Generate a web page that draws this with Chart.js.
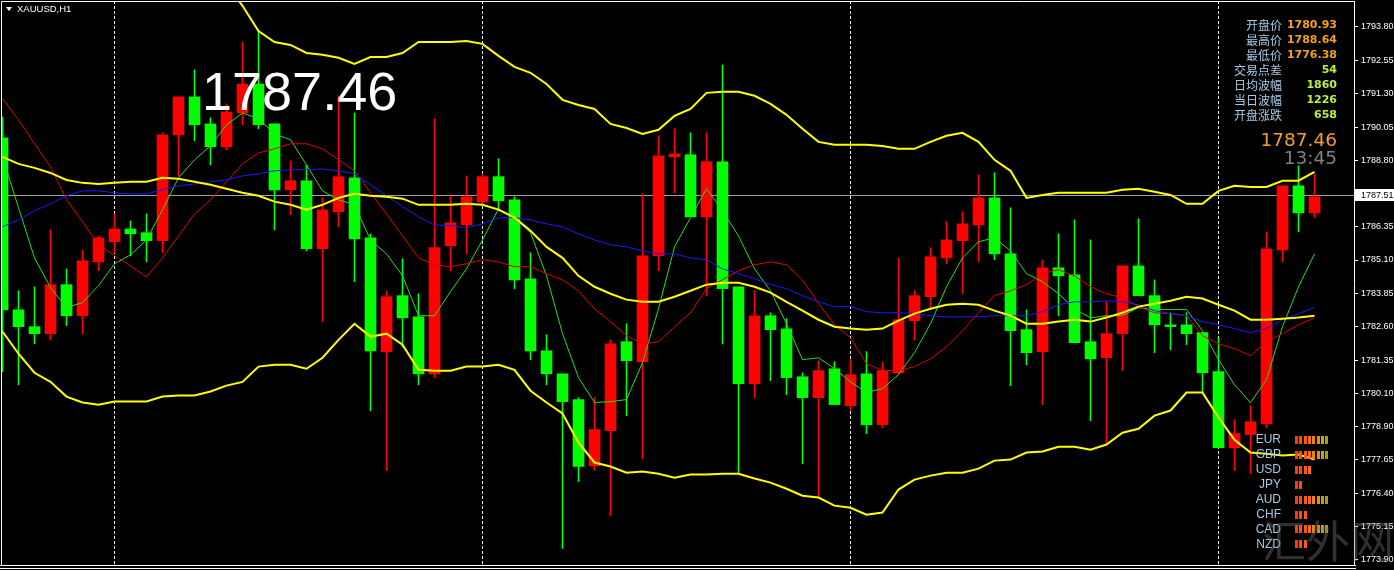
<!DOCTYPE html>
<html>
<head>
<meta charset="utf-8">
<script src="https://cdn.jsdelivr.net/npm/chart.js@4.4.1/dist/chart.umd.min.js"></script>
<style>
html,body{margin:0;padding:0;background:#000;overflow:hidden;}
#wrap{width:1394px;height:570px;position:relative;}
</style>
</head>
<body>
<div id="wrap"><canvas id="c"></canvas></div>
<script>
// XAUUSD H1 蜡烛图 (红涨绿跌) + 布林带 + 均线

const OPEN = [1789.66,1783.24,1782.61,1782.35,1784.18,1783.02,1785.03,1785.78,1786.26,1786.12,
  1785.82,1789.77,1791.19,1790.18,1789.33,1790.59,1791.67,1790.18,1787.72,1788.06,
  1785.52,1786.90,1788.17,1785.93,1781.68,1783.77,1782.98,1780.85,1785.63,1786.41,
  1787.27,1788.21,1787.35,1784.40,1781.71,1780.85,1779.89,1777.42,1778.73,1782.05,
  1781.30,1785.26,1788.95,1789.03,1786.71,1788.77,1784.10,1780.48,1783.02,1782.53,
  1780.74,1779.96,1781.04,1779.66,1780.85,1778.95,1780.89,1782.83,1783.73,1785.18,
  1785.82,1786.41,1787.42,1785.33,1782.50,1781.68,1784.81,1784.55,1782.05,1781.45,
  1782.35,1784.88,1783.77,1782.68,1782.68,1782.39,1780.93,1778.09,1778.58,1778.99,
  1785.48,1787.87,1786.86];
const HIGH = [1790.44,1783.95,1784.10,1786.23,1784.77,1785.48,1786.00,1786.82,1786.56,1786.82,
  1789.85,1791.19,1792.20,1790.41,1790.93,1793.24,1793.65,1790.18,1788.80,1788.65,
  1787.42,1791.23,1790.59,1786.08,1783.95,1785.15,1783.84,1790.37,1787.50,1788.24,
  1788.28,1788.88,1787.46,1785.37,1782.31,1780.85,1779.96,1779.96,1782.12,1782.72,
  1787.57,1789.74,1790.00,1789.85,1789.85,1792.38,1784.10,1783.95,1783.13,1782.91,
  1780.89,1781.34,1781.30,1781.38,1781.68,1781.30,1785.18,1783.95,1785.56,1786.53,
  1786.90,1788.28,1788.36,1787.05,1783.24,1785.11,1786.08,1786.60,1785.85,1783.54,
  1784.88,1786.64,1784.36,1783.13,1783.13,1782.39,1782.20,1779.14,1779.66,1786.15,
  1787.87,1788.62,1788.32];
const LOW = [1780.93,1780.44,1781.97,1782.12,1782.65,1782.35,1784.70,1785.37,1785.26,1785.03,
  1785.37,1788.24,1789.55,1788.65,1789.21,1790.15,1790.00,1786.23,1786.79,1785.44,
  1782.80,1786.34,1784.29,1779.47,1777.24,1781.86,1780.44,1780.71,1784.70,1785.33,
  1787.20,1786.94,1784.03,1781.38,1780.44,1774.33,1776.83,1777.24,1775.56,1779.29,
  1777.68,1784.70,1787.61,1786.71,1783.77,1781.97,1777.12,1779.96,1780.59,1780.07,
  1777.50,1776.27,1779.70,1779.47,1778.62,1778.84,1780.85,1782.12,1783.28,1784.96,
  1783.84,1785.03,1785.11,1780.41,1781.19,1779.70,1783.02,1782.01,1779.10,1778.24,
  1780.97,1783.77,1781.64,1781.75,1781.94,1780.15,1778.09,1777.24,1777.12,1778.84,
  1785.03,1786.15,1786.68];
const CLOSE = [1783.24,1782.61,1782.35,1784.18,1783.02,1785.07,1785.93,1786.26,1786.08,1785.82,
  1789.77,1791.19,1790.15,1789.33,1790.63,1791.67,1790.15,1787.72,1788.06,1785.52,
  1786.97,1788.21,1785.89,1781.71,1783.73,1782.94,1780.85,1785.56,1786.49,1787.46,
  1788.21,1787.31,1784.36,1781.71,1780.85,1779.81,1777.39,1778.77,1781.97,1781.34,
  1785.26,1788.99,1789.06,1786.71,1788.77,1784.03,1780.48,1783.02,1782.50,1780.71,
  1779.96,1780.97,1779.70,1780.82,1778.95,1780.97,1782.87,1783.77,1785.22,1785.85,
  1786.45,1787.42,1785.33,1782.46,1781.64,1784.81,1784.51,1782.01,1781.41,1782.35,
  1784.88,1783.77,1782.68,1782.61,1782.35,1780.89,1778.09,1778.62,1779.06,1785.52,
  1787.87,1786.86,1787.46];

// 布林带 上/中/下轨
const BB_UPPER = [1796.6,1796.6,1796.6,1796.6,1796.6,1796.6,1796.6,1796.6,1796.6,1796.6,
  1796.6,1796.5,1796.3,1795.9,1795.4,1794.59,1793.65,1793.24,1793.13,1792.83,
  1792.76,1792.65,1792.42,1792.68,1792.68,1792.83,1793.24,1793.24,1793.24,1793.28,
  1793.17,1792.72,1792.31,1792.09,1791.67,1791.08,1790.89,1790.74,1790.18,1790.03,
  1789.81,1789.96,1790.48,1790.74,1791.34,1791.38,1791.38,1791.23,1790.93,1790.52,
  1790.00,1789.51,1789.40,1789.40,1789.40,1789.36,1789.25,1789.25,1789.51,1789.74,
  1789.85,1789.51,1788.84,1788.43,1787.42,1787.53,1787.61,1787.61,1787.61,1787.61,
  1787.72,1787.76,1787.65,1787.53,1787.20,1787.20,1787.68,1787.87,1787.83,1787.83,
  1788.06,1788.06,1788.39];
const BB_MID = [1788.95,1788.69,1788.54,1788.35,1788.09,1787.98,1787.94,1787.98,1788.02,1788.02,
  1788.17,1788.13,1788.02,1787.91,1787.76,1787.61,1787.50,1787.28,1787.16,1786.98,
  1787.16,1787.42,1787.57,1787.50,1787.46,1787.39,1787.16,1787.16,1787.16,1787.20,
  1787.16,1786.98,1786.68,1786.19,1785.59,1785.18,1784.51,1784.10,1783.84,1783.62,
  1783.54,1783.54,1783.73,1783.95,1784.18,1784.25,1784.25,1784.10,1783.88,1783.54,
  1783.21,1782.87,1782.61,1782.54,1782.50,1782.54,1782.84,1783.10,1783.28,1783.43,
  1783.47,1783.43,1783.21,1783.02,1782.72,1782.72,1782.80,1782.87,1782.80,1782.95,
  1783.13,1783.36,1783.47,1783.58,1783.73,1783.66,1783.43,1783.21,1782.87,1782.87,
  1782.91,1782.95,1783.02];
const BB_LOWER = [1782.43,1781.60,1780.89,1780.55,1780.00,1779.78,1779.70,1779.82,1779.82,1779.82,
  1780.00,1780.04,1780.04,1780.19,1780.41,1780.55,1781.12,1781.19,1781.19,1781.04,
  1781.45,1782.12,1782.72,1782.24,1782.35,1781.94,1781.00,1780.97,1780.97,1781.12,
  1781.12,1781.19,1781.00,1780.22,1779.78,1779.37,1778.28,1777.54,1777.39,1777.16,
  1777.20,1777.12,1776.97,1777.09,1777.09,1777.12,1777.12,1776.94,1776.79,1776.56,
  1776.30,1776.23,1775.93,1775.85,1775.59,1775.67,1776.53,1776.90,1777.05,1777.16,
  1777.16,1777.31,1777.61,1777.65,1777.91,1777.95,1778.13,1778.13,1778.02,1778.21,
  1778.65,1778.80,1779.29,1779.48,1780.15,1780.15,1779.22,1778.39,1777.91,1777.87,
  1777.80,1777.84,1777.65];

// 均线 蓝/红/绿
const MA_BLUE = [1786.34,1786.60,1786.94,1787.20,1787.50,1787.68,1787.68,1787.61,1787.57,1787.57,
  1787.72,1787.87,1787.94,1788.02,1788.09,1788.24,1788.32,1788.43,1788.47,1788.47,
  1788.50,1788.43,1788.32,1787.91,1787.50,1787.09,1786.71,1786.41,1786.38,1786.30,
  1786.45,1786.68,1786.68,1786.60,1786.45,1786.34,1786.08,1785.85,1785.67,1785.59,
  1785.44,1785.33,1785.33,1785.18,1785.11,1784.77,1784.59,1784.40,1784.18,1784.03,
  1783.77,1783.54,1783.36,1783.36,1783.17,1783.13,1783.13,1783.10,1783.02,1782.98,
  1782.98,1782.98,1783.02,1783.02,1783.02,1783.17,1783.43,1783.54,1783.54,1783.58,
  1783.54,1783.43,1783.21,1783.10,1783.02,1782.80,1782.68,1782.54,1782.39,1782.54,
  1782.87,1783.10,1783.32];
const MA_RED = [1791.12,1790.33,1789.44,1788.58,1787.35,1786.53,1785.67,1785.26,1784.88,1784.47,
  1785.18,1786.00,1786.82,1787.35,1788.02,1788.69,1789.10,1789.25,1789.44,1789.44,
  1789.25,1788.84,1788.43,1787.61,1786.82,1786.00,1785.18,1784.92,1784.85,1784.96,
  1785.11,1785.03,1784.85,1784.85,1784.59,1784.36,1783.95,1783.28,1782.80,1782.27,
  1781.97,1782.05,1782.61,1783.13,1784.03,1784.36,1784.70,1784.92,1785.03,1784.92,
  1784.36,1783.47,1782.68,1782.20,1781.23,1780.97,1780.97,1781.12,1781.41,1781.86,
  1782.46,1783.13,1783.77,1783.95,1784.18,1784.59,1784.74,1784.51,1784.10,1783.84,
  1783.69,1783.36,1783.13,1783.10,1783.02,1782.27,1781.97,1781.79,1781.53,1782.05,
  1782.35,1782.68,1782.94];
const MA_GREEN = [1788.95,1787.05,1785.18,1784.07,1783.32,1783.51,1784.14,1784.96,1785.29,1785.85,
  1786.97,1788.17,1788.84,1789.36,1790.15,1790.59,1790.37,1789.81,1789.59,1788.65,
  1787.68,1787.35,1787.16,1785.85,1785.33,1784.51,1783.02,1783.02,1783.92,1784.77,
  1785.85,1787.01,1786.68,1786.12,1784.51,1782.35,1780.71,1779.78,1779.81,1779.89,
  1781.27,1783.28,1785.59,1786.68,1787.76,1786.94,1786.00,1784.77,1783.95,1782.72,
  1781.38,1781.45,1781.04,1780.55,1780.15,1780.30,1780.82,1781.64,1782.72,1784.10,
  1785.18,1785.78,1785.93,1785.44,1784.59,1784.29,1783.84,1783.28,1782.94,1783.02,
  1783.02,1783.32,1783.25,1783.25,1783.25,1782.46,1781.38,1780.44,1779.78,1780.63,
  1782.61,1784.10,1785.33];

const TICKS = [1793.80,1792.55,1791.30,1790.05,1788.80,1786.35,1785.10,1783.85,
  1782.60,1781.35,1780.10,1778.90,1777.65,1776.40,1775.15,1773.90];
const SEPARATORS = [7,30,53,76];   // 日分隔线所在K线
const BID = 1787.51;
const LAST = 1787.46;
const CLOCK = '13:45';

const INFO_LABELS = ['开盘价','最高价','最低价','交易点差','日均波幅','当日波幅','开盘涨跌'];
const INFO_VALUES = ['1780.93','1788.64','1776.38','54','1860','1226','658'];

const CURRENCIES = ['EUR','GBP','USD','JPY','AUD','CHF','CAD','NZD'];
const STRENGTH = [8,8,4,2,8,3,8,3];

const UP = '#ff0000', DOWN = '#00ff00';
const idx = OPEN.map((_,i)=>i);
const candleColors = idx.map(i => CLOSE[i] >= OPEN[i] ? UP : DOWN);

function lineDs(arr, color, w){
  return {type:'line', data: arr.map((v,i)=>({x:i, y:v})), borderColor:color, borderWidth:w,
    pointRadius:0, tension:0, fill:false, order:0};
}

const overlay = {
  id:'overlay',
  beforeDatasetsDraw(chart){
    const {ctx, chartArea:a, scales:{x,y}} = chart;
    ctx.save();
    ctx.lineWidth = 1;
    ctx.strokeStyle = '#ffffff';
    ctx.setLineDash([3,2]);
    SEPARATORS.forEach(i=>{
      const px = Math.floor(x.getPixelForValue(i)) + 0.5;
      ctx.beginPath(); ctx.moveTo(px, a.top); ctx.lineTo(px, a.bottom); ctx.stroke();
    });
    ctx.setLineDash([]);
    ctx.strokeStyle = '#a0a0a0';
    const by = Math.floor(y.getPixelForValue(BID)) + 0.5;
    ctx.beginPath(); ctx.moveTo(a.left, by); ctx.lineTo(a.right, by); ctx.stroke();
    ctx.restore();
  },
  afterDatasetsDraw(chart){
    const {ctx} = chart;
    ctx.save();
    // 大字现价
    ctx.fillStyle = '#ffffff';
    ctx.font = '54px "Liberation Sans"';
    ctx.textBaseline = 'alphabetic';
    ctx.textAlign = 'left';
    ctx.fillText(LAST.toFixed(2), 202, 110);

    // 信息面板
    ctx.textBaseline = 'middle';
    INFO_LABELS.forEach((t,k)=>{
      const yy = 25.5 + k*15;
      ctx.textAlign = 'right';
      ctx.font = '12px "Noto Sans CJK SC"';
      ctx.fillStyle = '#a8c8e4';
      ctx.fillText(t, 1282, yy);
      ctx.font = 'bold 11px "DejaVu Sans"';
      ctx.fillStyle = k < 3 ? '#f4a020' : '#b8f040';
      ctx.fillText(INFO_VALUES[k], 1337, yy);
    });
    ctx.textAlign = 'right';
    ctx.font = '18.5px "DejaVu Sans"';
    ctx.fillStyle = '#f0a030';
    ctx.fillText(LAST.toFixed(2), 1337, 141);
    ctx.fillStyle = '#808080';
    ctx.fillText(CLOCK, 1337, 159);

    // 货币强弱
    const barCols = ['#ff3a10','#ff4a10','#ff5a10','#ff6a10','#f08010','#e09018','#c0a020','#a0a020'];
    CURRENCIES.forEach((c,k)=>{
      const yy = 440 + k*14.9;
      ctx.textAlign = 'right';
      ctx.font = '12px "Liberation Sans"';
      ctx.fillStyle = '#a8c8e4';
      ctx.fillText(c, 1281, yy);
      for(let j=0;j<STRENGTH[k];j++){
        ctx.fillStyle = barCols[j];
        ctx.fillRect(Math.round(1295 + j*4.3), Math.round(yy-4), 3, 8);
      }
    });

    // 水印
    ctx.textAlign = 'left';
    ctx.font = '44px "Noto Sans CJK SC"';
    ctx.fillStyle = 'rgba(120,120,120,0.4)';
    ctx.fillText('汇外网', 1262, 541);
    ctx.restore();
  },
  afterDraw(chart){
    const {ctx, chartArea:a, scales:{y}} = chart;
    ctx.save();
    ctx.strokeStyle = '#ffffff';
    ctx.lineWidth = 1;
    ctx.beginPath();
    ctx.moveTo(1.5, a.bottom); ctx.lineTo(1.5, 1.5); ctx.lineTo(a.right + 0.5, 1.5);
    ctx.moveTo(0, 565.5); ctx.lineTo(a.right + 2, 565.5);
    ctx.moveTo(0, 568.5); ctx.lineTo(a.right + 2, 568.5);
    ctx.stroke();

    // 左上品种
    ctx.fillStyle = '#ffffff';
    ctx.beginPath(); ctx.moveTo(6, 7); ctx.lineTo(12, 7); ctx.lineTo(9, 11); ctx.closePath(); ctx.fill();
    ctx.font = '9.5px "Liberation Sans"';
    ctx.textBaseline = 'middle';
    ctx.textAlign = 'left';
    ctx.fillText('XAUUSD,H1', 17, 9);

    // 价格标签
    const by = Math.floor(y.getPixelForValue(BID)) + 0.5;
    ctx.fillStyle = '#ffffff';
    ctx.fillRect(a.right + 1, by - 6.5, 40, 12);
    ctx.fillStyle = '#000000';
    ctx.font = '9px "Liberation Sans"';
    ctx.fillText(BID.toFixed(2), 1361, by);
    ctx.restore();
  }
};

Chart.defaults.font.family = 'Liberation Sans';

new Chart(document.getElementById('c'), {
  type: 'bar',
  data: {
    datasets: [
      lineDs(BB_UPPER, '#ffff00', 2),
      lineDs(BB_MID, '#ffff00', 2),
      lineDs(BB_LOWER, '#ffff00', 2),
      lineDs(MA_BLUE, '#1a1aff', 1),
      lineDs(MA_RED, '#e00000', 1),
      lineDs(MA_GREEN, '#20e020', 1),
      { label:'body', data: idx.map(i=>({x:i, y:[Math.min(OPEN[i],CLOSE[i]), Math.max(OPEN[i],CLOSE[i])]})),
        backgroundColor: candleColors, borderWidth:0, barThickness:11, minBarLength:1, grouped:false, order:2 },
      { label:'wick', data: idx.map(i=>({x:i, y:[LOW[i], HIGH[i]]})),
        backgroundColor: candleColors, borderWidth:0, barThickness:1, grouped:false, order:3 }
    ]
  },
  options: {
    responsive:true,
    maintainAspectRatio:false,
    devicePixelRatio:1,
    animation:false,
    events:[],
    layout:{ padding:{ left:1, top:1, right:0, bottom:5 } },
    plugins:{ legend:{display:false}, tooltip:{enabled:false} },
    scales:{
      x:{ type:'linear', min:-0.09375, max:84.46875, offset:false, display:false },
      y:{ type:'linear', position:'right', min:1773.713, max:1794.770,
        afterFit(s){ s.width = 40; s.paddingTop = 0; s.paddingBottom = 0; },
        afterBuildTicks(s){ s.ticks = TICKS.map(v=>({value:v})); },
        ticks:{ color:'#ffffff', font:{family:'Liberation Sans', size:9}, padding:3, autoSkip:false,
          callback:v=>Number(v).toFixed(2) },
        grid:{ drawOnChartArea:false, drawTicks:true, tickLength:4, color:'#ffffff' },
        border:{ display:true, color:'#ffffff' }
      }
    }
  },
  plugins:[overlay]
});
</script>
</body>
</html>
